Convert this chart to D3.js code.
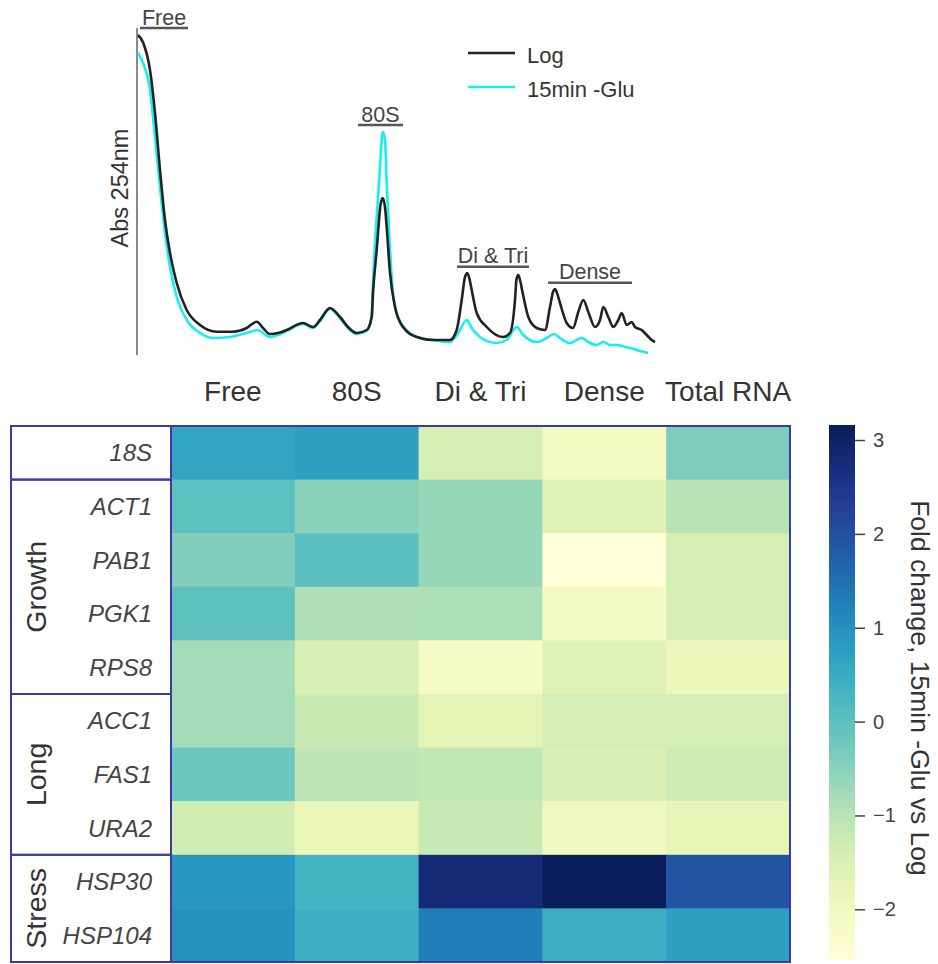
<!DOCTYPE html>
<html><head><meta charset="utf-8">
<script src="https://cdn.jsdelivr.net/npm/d3@7"></script>
<style>body{margin:0;background:#fff} svg{display:block;font-family:"Liberation Sans",Arial,Helvetica,sans-serif}</style>
</head><body><svg id="c" width="938" height="964"></svg>
<script>
// ---------- DATA ----------
// Polysome profile: [gradient position, Abs 254nm (a.u.)]
const logProfile = [
 [0,3.20],[0.53,3.12],[1.2,2.85],[1.7,2.42],[2.2,1.85],[2.7,1.35],[3.2,1.02],[3.87,0.72],[4.87,0.45],[6.2,0.30],
 [7.87,0.233],[9.5,0.233],[10.87,0.27],[11.87,0.333],[12.5,0.27],[13.2,0.21],[14.0,0.22],[14.87,0.25],[16.5,0.32],
 [17.5,0.28],[18.2,0.35],[19.2,0.47],[20.2,0.38],[21.0,0.28],[21.87,0.22],[22.87,0.25],[23.37,0.38],[23.5,0.62],
 [23.87,1.05],[24.25,1.50],[24.47,1.57],[24.7,1.48],[24.87,1.28],[25.2,0.82],[25.7,0.48],[26.5,0.28],[27.87,0.18],
 [29.5,0.15],[31.2,0.15],[31.87,0.25],[32.37,0.55],[32.7,0.78],[32.93,0.82],[33.15,0.76],[33.37,0.65],[33.87,0.42],
 [34.87,0.28],[36.5,0.18],[37.2,0.22],[37.7,0.55],[37.85,0.76],[38.03,0.80],[38.2,0.75],[38.47,0.62],[39.03,0.38],
 [39.87,0.27],[40.7,0.25],[41.2,0.48],[41.5,0.63],[41.7,0.66],[41.9,0.62],[42.2,0.52],[42.87,0.32],[43.5,0.27],
 [44.03,0.43],[44.53,0.55],[45.03,0.43],[45.7,0.28],[46.2,0.35],[46.53,0.48],[47.03,0.38],[47.53,0.28],[48.03,0.35],
 [48.37,0.42],[48.87,0.30],[49.37,0.33],[49.7,0.28],[50.37,0.25],[50.87,0.20],[51.37,0.15],[51.7,0.13]
];
const gluProfile = [
 [0,3.02],[0.5,2.92],[1.2,2.65],[1.7,2.18],[2.2,1.68],[2.7,1.22],[3.2,0.88],[3.87,0.58],[4.87,0.35],[6.2,0.22],
 [7.5,0.17],[9.2,0.18],[10.87,0.22],[12.0,0.25],[12.5,0.22],[13.2,0.18],[14.0,0.20],[14.87,0.24],[16.5,0.31],
 [17.5,0.27],[18.2,0.34],[19.2,0.46],[20.2,0.37],[21.0,0.27],[21.87,0.21],[22.87,0.24],[23.37,0.38],[23.5,0.72],
 [23.87,1.38],[24.2,1.88],[24.47,2.23],[24.7,2.15],[24.87,1.72],[25.2,1.05],[25.5,0.62],[26.0,0.38],[26.87,0.25],
 [28.2,0.17],[29.5,0.15],[31.2,0.13],[32.03,0.22],[32.87,0.35],[33.37,0.27],[34.2,0.18],[35.87,0.12],[36.87,0.15],
 [37.87,0.28],[38.53,0.20],[39.87,0.13],[40.87,0.17],[41.6,0.21],[42.2,0.17],[43.2,0.12],[44.37,0.17],[45.03,0.13],
 [45.87,0.10],[46.53,0.13],[47.2,0.10],[47.87,0.10],[48.37,0.09],[49.2,0.07],[50.2,0.04],[51.0,0.02]
];
const seriesNames = ["Log", "15min -Glu"];
const fractionLabels = ["Free", "80S", "Di & Tri", "Dense"];
const fractionSpans = [[0.2,5.0],[22.0,26.5],[31.9,39.1],[41.0,49.4]];

// Heatmap
const columns = ["Free", "80S", "Di & Tri", "Dense", "Total RNA"];
const genes = ["18S","ACT1","PAB1","PGK1","RPS8","ACC1","FAS1","URA2","HSP30","HSP104"];
const groupNames = ["", "Growth", "Long", "Stress"];
const groupSizes = [1, 4, 3, 2];
const foldChange = [
 [ 0.62,  0.73, -1.40, -2.03, -0.37],
 [-0.03, -0.51, -0.63, -1.58, -1.00],
 [-0.40,  0.00, -0.63, -2.54, -1.40],
 [-0.02, -0.89, -0.87, -2.10, -1.40],
 [-0.77, -1.45, -2.12, -1.58, -1.88],
 [-0.76, -1.23, -1.66, -1.40, -1.40],
 [-0.20, -1.06, -1.11, -1.46, -1.28],
 [-1.34, -1.86, -1.20, -1.97, -1.77],
 [ 0.88,  0.31,  2.80,  3.15,  1.90],
 [ 0.98,  0.42,  1.28,  0.42,  0.73]
];
const colorDomain = [-2.54, 3.16];
const colorTicks = [-2, -1, 0, 1, 2, 3];
const colorbarTitle = "Fold change, 15min -Glu vs Log";

// ---------- DRAW ----------
const svg = d3.select("#c");
const navy = "#3a3aa6";

// Profile
const px = d3.scaleLinear().domain([0, 52]).range([138, 658]);
const py = d3.scaleLinear().domain([0, 3.2]).range([355, 35]);
const line = d3.line().x(d => px(d[0])).y(d => py(d[1])).curve(d3.curveMonotoneX);

svg.append("line").attr("x1", px(0) - 1).attr("x2", px(0) - 1).attr("y1", 28).attr("y2", 355)
  .attr("stroke", "#8a8a8a").attr("stroke-width", 2);

svg.append("path").attr("d", line(gluProfile)).attr("fill", "none")
  .attr("stroke", "#16eef2").attr("stroke-width", 2.6);
svg.append("path").attr("d", line(logProfile)).attr("fill", "none")
  .attr("stroke", "#222").attr("stroke-width", 2.6);

svg.append("text").attr("transform", "translate(128,188) rotate(-90)")
  .attr("text-anchor", "middle").attr("font-size", 23.5).attr("fill", "#333").text("Abs 254nm");

// Fraction brackets
const bracketY = [28, 125, 266.7, 282.7];
fractionLabels.forEach((lab, i) => {
  const [a, b] = fractionSpans[i];
  svg.append("line").attr("x1", px(a)).attr("x2", px(b)).attr("y1", bracketY[i]).attr("y2", bracketY[i])
    .attr("stroke", "#555").attr("stroke-width", 2.4);
  svg.append("text").attr("x", (px(a) + px(b)) / 2).attr("y", bracketY[i] - 3.5)
    .attr("text-anchor", "middle").attr("font-size", 21.5).attr("fill", "#444").text(lab);
});

// Legend
const legColors = ["#222", "#16eef2"];
seriesNames.forEach((n, i) => {
  const yy = 53 + i * 34;
  svg.append("line").attr("x1", 468).attr("x2", 515).attr("y1", yy).attr("y2", yy)
    .attr("stroke", legColors[i]).attr("stroke-width", 2.6);
  svg.append("text").attr("x", 527).attr("y", yy + 10).attr("font-size", 22).attr("fill", "#333").text(n);
});

// Heatmap
const hx = d3.scaleBand().domain(columns).range([171, 790]);
const hy = d3.scaleBand().domain(genes).range([426, 962]);
const color = d3.scaleSequential(d3.interpolateYlGnBu).domain(colorDomain);

const cells = [];
genes.forEach((g, r) => columns.forEach((c, k) => cells.push({g, c, v: foldChange[r][k]})));
svg.append("g").selectAll("rect").data(cells).join("rect")
  .attr("x", d => hx(d.c)).attr("y", d => hy(d.g))
  .attr("width", hx.bandwidth() + 0.5).attr("height", hy.bandwidth() + 0.5)
  .attr("fill", d => color(d.v));

svg.append("g").selectAll("text").data(columns).join("text")
  .attr("x", d => hx(d) + hx.bandwidth() / 2).attr("y", 401)
  .attr("text-anchor", "middle").attr("font-size", 28).attr("fill", "#333").text(d => d);

svg.append("g").selectAll("text").data(genes).join("text")
  .attr("x", 152).attr("y", d => hy(d) + hy.bandwidth() / 2).attr("dy", "0.36em")
  .attr("text-anchor", "end").attr("font-size", 24).attr("font-style", "italic")
  .attr("fill", "#444").text(d => d);

// group boxes
let start = 0;
groupNames.forEach((gn, i) => {
  const y0 = hy(genes[start]);
  const y1 = hy(genes[start + groupSizes[i] - 1]) + hy.bandwidth();
  svg.append("rect").attr("x", 11).attr("y", y0).attr("width", 171 - 11).attr("height", y1 - y0)
    .attr("fill", "none").attr("stroke", navy).attr("stroke-width", 2);
  if (gn) {
    svg.append("text").attr("transform", `translate(46,${(y0 + y1) / 2}) rotate(-90)`)
      .attr("text-anchor", "middle").attr("font-size", 28.5).attr("fill", "#333").text(gn);
  }
  start += groupSizes[i];
});
svg.append("rect").attr("x", 171).attr("y", 426).attr("width", 790 - 171).attr("height", 962 - 426)
  .attr("fill", "none").attr("stroke", navy).attr("stroke-width", 2);

// Colorbar
const cb = d3.scaleLinear().domain(colorDomain).range([960, 425]);
const defs = svg.append("defs");
const grad = defs.append("linearGradient").attr("id", "cbg").attr("x1", 0).attr("x2", 0).attr("y1", 1).attr("y2", 0);
d3.range(0, 1.0001, 0.05).forEach(t => grad.append("stop").attr("offset", t)
  .attr("stop-color", d3.interpolateYlGnBu(t)));
svg.append("rect").attr("x", 829).attr("y", 425).attr("width", 26).attr("height", 535).attr("fill", "url(#cbg)");
const ax = svg.append("g").attr("transform", "translate(855,0)")
  .call(d3.axisRight(cb).tickValues(colorTicks).tickFormat(d3.format("d")).tickSize(10).tickPadding(8));
ax.select(".domain").remove();
ax.selectAll("line").attr("stroke", "#444").attr("stroke-width", 1.5);
ax.selectAll("text").attr("font-size", 20).attr("fill", "#444").attr("font-family", "Liberation Sans, Arial, sans-serif");

svg.append("text").attr("transform", "translate(911,688) rotate(90)")
  .attr("text-anchor", "middle").attr("font-size", 26.5).attr("fill", "#333").text(colorbarTitle);
</script></body></html>
